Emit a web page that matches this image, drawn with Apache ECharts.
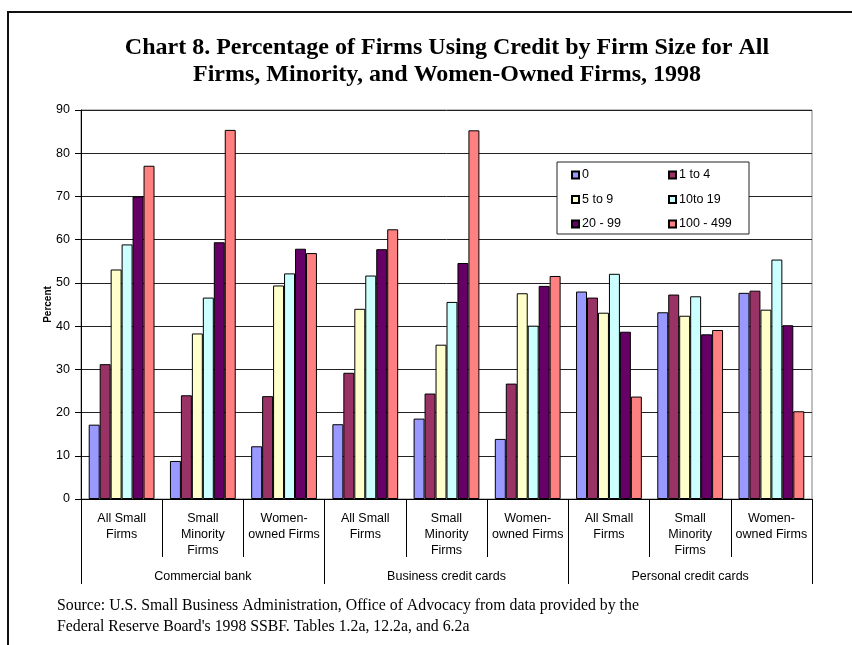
<!DOCTYPE html>
<html>
<head>
<meta charset="utf-8">
<script src="https://cdn.jsdelivr.net/npm/echarts@6/dist/echarts.min.js"></script>
<style>
  html, body { margin: 0; padding: 0; background: #fff; }
  #chart { width: 852px; height: 645px; }
</style>
</head>
<body>
<div id="chart"></div>
<script>
// sub categories (firm type) and main groups (credit source)
var firmTypes = ['All Small\nFirms', 'Small\nMinority\nFirms', 'Women-\nowned Firms',
                 'All Small\nFirms', 'Small\nMinority\nFirms', 'Women-\nowned Firms',
                 'All Small\nFirms', 'Small\nMinority\nFirms', 'Women-\nowned Firms']
var creditTypes = ['Commercial bank', 'Business credit cards', 'Personal credit cards']

var sizeNames = ['0', '1 to 4', '5 to 9', '10to 19', '20 - 99', '100 - 499']
var sizeColors = ['#9999FF', '#993366', '#FFFFCC', '#CCFFFF', '#660066', '#FF8080']

var size0 = [17.2, 8.8, 12.2, 17.3, 18.6, 13.9, 48.0, 43.2, 47.7]
var size1to4 = [31.2, 24.0, 23.8, 29.2, 24.4, 26.7, 46.6, 47.3, 48.2]
var size5to9 = [53.1, 38.3, 49.4, 44.0, 35.7, 47.6, 43.1, 42.4, 43.8]
var size10to19 = [58.9, 46.6, 52.2, 51.7, 45.6, 40.1, 52.1, 46.9, 55.4]
var size20to99 = [70.0, 59.4, 57.9, 57.8, 54.6, 49.3, 38.7, 38.1, 40.2]
var size100to499 = [77.1, 85.4, 56.9, 62.4, 85.3, 51.6, 23.7, 39.1, 20.3]

var allSizes = [size0, size1to4, size5to9, size10to19, size20to99, size100to499]

var sans = "'Liberation Sans', Arial, sans-serif"
var serif = "'Liberation Serif', 'Times New Roman', serif"

var chart = echarts.init(document.getElementById('chart'))

var seriesData = []
for (var i = 0; i < sizeNames.length; i++) {
  seriesData.push({
    name: sizeNames[i],
    type: 'bar',
    barGap: '0%',
    barCategoryGap: '19%',
    data: allSizes[i],
    itemStyle: { color: sizeColors[i], borderColor: '#000', borderWidth: 1 }
  })
}

var legendCommon = {
  orient: 'vertical',
  top: 163,
  itemWidth: 7,
  itemHeight: 7,
  itemGap: 10.5,
  icon: 'rect',
  z: 10,
  textStyle: { fontFamily: sans, fontSize: 12.5, color: '#000', lineHeight: 14, padding: [0, 0, 0, -2] }
}

var option = {
  animation: false,
  backgroundColor: '#fff',
  color: sizeColors,
  grid: {
    left: 81, right: 40, top: 110, bottom: 146,
    show: true, borderColor: '#808080', borderWidth: 1
  },
  legend: [
    Object.assign({}, legendCommon, { left: 566, data: ['0', '5 to 9', '20 - 99'] }),
    Object.assign({}, legendCommon, { left: 663, data: ['1 to 4', '10to 19', '100 - 499'] })
  ],
  xAxis: [
    {
      type: 'category',
      data: firmTypes,
      position: 'bottom',
      axisLine: { lineStyle: { color: '#000', width: 1 } },
      axisTick: { show: true, interval: 0, length: 58, lineStyle: { color: '#000' } },
      axisLabel: { interval: 0, margin: 12, fontFamily: sans, fontSize: 12.5, color: '#000', lineHeight: 16 }
    },
    {
      type: 'category',
      data: creditTypes,
      position: 'bottom',
      axisLine: { show: false },
      axisTick: { show: true, interval: 0, length: 85, lineStyle: { color: '#000' } },
      axisLabel: { interval: 0, margin: 71, fontFamily: sans, fontSize: 12.5, color: '#000' }
    }
  ],
  yAxis: {
    type: 'value',
    min: 0,
    max: 90,
    interval: 10,
    name: 'Percent',
    nameLocation: 'middle',
    nameRotate: 90,
    nameGap: 28,
    nameMoveOverlap: false,
    nameTextStyle: { fontFamily: sans, fontSize: 10, fontWeight: 'bold', color: '#000' },
    axisLine: { show: true, lineStyle: { color: '#000' } },
    axisTick: { show: true, length: 6, lineStyle: { color: '#000' } },
    axisLabel: { margin: 11, fontFamily: sans, fontSize: 12.5, color: '#000' },
    splitLine: { lineStyle: { color: '#222', width: 1 } }
  },
  graphic: [
    {
      type: 'polyline',
      shape: { points: [[8, 700], [8, 12], [900, 12]] },
      style: { stroke: '#111', lineWidth: 2, fill: null }
    },
    {
      type: 'rect',
      z: 5,
      shape: { x: 557, y: 162, width: 192, height: 72 },
      style: { fill: '#fff', stroke: '#222', lineWidth: 1 }
    },
    {
      type: 'text',
      x: 447,
      y: 34,
      style: {
        text: 'Chart 8. Percentage of Firms Using Credit by Firm Size for All\nFirms, Minority, and Women-Owned Firms, 1998',
        font: 'bold 24px ' + serif,
        fill: '#000',
        textAlign: 'center',
        lineHeight: 27
      }
    },
    {
      type: 'text',
      x: 57,
      y: 595,
      style: {
        text: "Source: U.S. Small Business Administration, Office of Advocacy from data provided by the\nFederal Reserve Board's 1998 SSBF. Tables 1.2a, 12.2a, and 6.2a",
        font: '15.8px ' + serif,
        fill: '#000',
        lineHeight: 21
      }
    }
  ],
  series: seriesData
}

chart.setOption(option)
</script>
</body>
</html>
